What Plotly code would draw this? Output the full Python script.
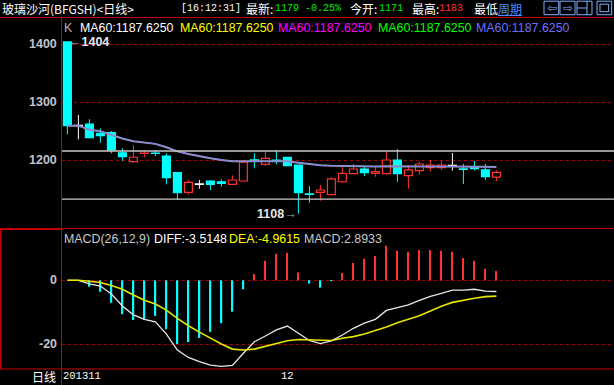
import plotly.graph_objects as go

W, H = 614, 385

# ---------------- data ----------------
open_ = [1404, 1259.7, 1262.6, 1246.6, 1247.6, 1213, 1197.6, 1212, 1212.3, 1207.4,
         1178.6, 1144.8, 1158.6, 1164.3, 1163, 1158.6, 1164.3, 1200.3, 1193, 1200.3,
         1205, 1191.9, 1141.6, 1144.8, 1140.7, 1163, 1176.9, 1185, 1177.6, 1176.9,
         1200.5, 1173.4, 1182.1, 1187.2, 1187.2, 1190.7, 1184.7, 1189, 1183.3, 1171]
high = [1404, 1278, 1270.7, 1255, 1250.5, 1220.7, 1226.4, 1216.5, 1217.8, 1212,
        1178.6, 1166, 1166, 1166, 1167.2, 1174, 1197, 1212, 1214.8, 1217.8,
        1205, 1191.9, 1155.7, 1157.4, 1170.7, 1189, 1193.6, 1189, 1189, 1214.8,
        1219.5, 1191.9, 1197.6, 1200.5, 1198.8, 1212.6, 1193.6, 1198.8, 1193.6, 1183]
low = [1244.8, 1236, 1239, 1230.3, 1212, 1198.8, 1195.9, 1205, 1207.4, 1158.6,
       1131.6, 1140.7, 1151, 1148.8, 1154.5, 1158.6, 1164.3, 1186.2, 1190.2, 1193,
       1190.7, 1108, 1127, 1130.3, 1140.7, 1161.4, 1176.9, 1172.9, 1171.7, 1175.2,
       1163, 1151, 1175.2, 1180.3, 1183.3, 1182.1, 1159, 1182.1, 1166, 1164.3]
close = [1259.7, 1259.7, 1239, 1242.4, 1217.8, 1206.2, 1205.2, 1212.4, 1212, 1170,
         1144, 1162, 1158.6, 1158.6, 1160.3, 1166, 1197, 1200, 1203.4, 1199.8,
         1190.7, 1144, 1141.4, 1148.8, 1167.8, 1177.6, 1185, 1178.6, 1180.3, 1200.5,
         1176.9, 1183.3, 1193.6, 1191.9, 1191.9, 1190.7, 1184.5, 1185.5, 1171.7, 1179]
ma60 = [1259.7, 1259.7, 1252.8, 1250.2, 1243.7, 1237.5, 1232.9, 1230.3, 1228.3, 1222.5,
        1215.3, 1210.9, 1206.9, 1203.4, 1200.5, 1198.4, 1198.3, 1198.4, 1198.7, 1198.7,
        1198.3, 1195.8, 1193.5, 1191.6, 1190.7, 1190.2, 1190.0, 1189.6, 1189.2, 1189.6,
        1189.2, 1189.0, 1189.2, 1189.2, 1189.3, 1189.4, 1189.2, 1189.1, 1188.7, 1188.4]
diff = [0, 0, -1.15, -1.8, -4.3, -8.0, -10.8, -12.2, -13.0, -16.8,
        -21.8, -24.1, -25.4, -26.5, -26.9, -26.6, -22.8, -19.2, -17.4, -15.5,
        -14.3, -16.6, -18.8, -19.8, -18.9, -17.1, -15.0, -13.4, -12.2, -9.4,
        -8.6, -7.7, -6.3, -5.0, -4.1, -3.1, -3.1, -2.8, -3.4, -3.5]
dea = [0, 0, -0.3, -0.7, -1.6, -2.8, -4.6, -6.2, -7.4, -9.3,
       -11.9, -14.2, -16.2, -18.1, -19.9, -21.5, -21.8, -21.5, -20.7, -19.7,
       -18.9, -18.5, -18.6, -18.8, -18.8, -18.1, -17.6, -16.8, -15.8, -14.6,
       -13.3, -12.3, -11.1, -9.6, -8.1, -6.9, -6.2, -5.6, -5.1, -4.96]
macd = [0, 0, -2.0, -3.6, -7.0, -10.6, -12.4, -12.3, -11.1, -15.3,
        -19.9, -19.3, -18.0, -16.1, -13.4, -9.8, -2.8, 2.0, 6.1, 8.2,
        8.6, 2.4, -1.0, -2.3, -0.2, 2.3, 5.4, 6.7, 7.6, 10.8,
        9.2, 8.9, 9.5, 9.5, 9.2, 8.9, 7.0, 6.1, 3.6, 2.9]
levels = [1216, 1133]
price_ticks = [1400, 1300, 1200]
macd_ticks = [0, -20]
month_ticks = [(20, "12")]
first_month = "201311"
ma_labels = ["MA60:1187.6250"] * 5
macd_title = "MACD(26,12,9)"
diff_label = "DIFF:-3.5148"
dea_label = "DEA:-4.9615"
macd_label = "MACD:2.8933"
header_texts = ["玻璃沙河(BFGSH)<日线>", "[16:12:31]", "最新:", "1179", "-0.25%",
                "今开:", "1171", "最高:", "1183", "最低", "周期"]

# ---------------- styles ----------------
RED = "#ff3232"
CYAN = "#00ffff"
FRAME = "#c80000"
GRID = "#a00000"
LBL = "#c0c4cc"
SANS = "Liberation Sans, Arial, sans-serif"
CJK = "Noto Sans CJK SC, sans-serif"
MONO = "Liberation Mono, monospace"


def px(x):
    return x / W


def py(y):
    return 1 - y / H


x = list(range(len(close)))
fig = go.Figure()

# candles
groups = {"up": (RED, "#000000"), "down": (CYAN, CYAN), "flat": ("#ffffff", "#ffffff")}


def kind(i):
    if close[i] > open_[i]:
        return "up"
    if close[i] < open_[i]:
        return "down"
    return "flat"


for g, (lc, fc) in groups.items():
    idx = [i for i in x if kind(i) == g]
    wx, wy = [], []
    for i in idx:
        top = max(open_[i], close[i])
        bot = min(open_[i], close[i])
        if high[i] > top:
            wx += [i, i, None]
            wy += [top, high[i], None]
        if low[i] < bot:
            wx += [i, i, None]
            wy += [low[i], bot, None]
    fig.add_trace(go.Scatter(x=wx, y=wy, mode="lines", line=dict(color=lc, width=1),
                             xaxis="x", yaxis="y", hoverinfo="skip"))
    fig.add_trace(go.Bar(x=idx,
                         y=[max(abs(close[i] - open_[i]), 0.6) for i in idx],
                         base=[min(open_[i], close[i]) for i in idx],
                         width=0.72, marker=dict(color=fc, line=dict(color=lc, width=1.2)),
                         xaxis="x", yaxis="y", hoverinfo="skip"))

# MA lines
fig.add_trace(go.Scatter(x=x, y=ma60, mode="lines", line=dict(color="#9a9a9a", width=2),
                         xaxis="x", yaxis="y", hoverinfo="skip"))
fig.add_trace(go.Scatter(x=x, y=ma60, mode="lines", line=dict(color="#8080ff", width=1),
                         xaxis="x", yaxis="y", hoverinfo="skip"))

# MACD histogram
pos = [i for i in x if macd[i] > 0]
neg = [i for i in x if macd[i] < 0]
fig.add_trace(go.Bar(x=pos, y=[macd[i] for i in pos], width=0.11,
                     marker=dict(color=RED, line=dict(width=0)), xaxis="x2", yaxis="y2"))
fig.add_trace(go.Bar(x=neg, y=[macd[i] for i in neg], width=0.15,
                     marker=dict(color=CYAN, line=dict(width=0)), xaxis="x2", yaxis="y2"))
fig.add_trace(go.Scatter(x=x, y=diff, mode="lines", line=dict(color="#e8e8e8", width=1.3),
                         xaxis="x2", yaxis="y2", hoverinfo="skip"))
fig.add_trace(go.Scatter(x=x, y=dea, mode="lines", line=dict(color="#e6e600", width=1.6),
                         xaxis="x2", yaxis="y2", hoverinfo="skip"))

xr = [-0.49, -0.49 + 552 / 11]
ax_common = dict(showgrid=True, gridcolor=GRID, griddash="dot", gridwidth=1,
                 showticklabels=False, zeroline=False, showline=False, ticks="")
fig.update_layout(
    width=W, height=H, margin=dict(l=0, r=0, t=0, b=0),
    paper_bgcolor="black", plot_bgcolor="black",
    barmode="overlay", showlegend=False,
    xaxis=dict(domain=[px(62), 1], range=xr, visible=False, anchor="y"),
    xaxis2=dict(domain=[px(62), 1], range=xr, visible=False, anchor="y2", matches="x"),
    yaxis=dict(domain=[py(228.5), py(18)], range=[1082.4, 1445.3], tickvals=price_ticks,
               anchor="x", **ax_common),
    yaxis2=dict(domain=[py(369), py(229)], range=[-27.72, 16.03], tickvals=macd_ticks,
                anchor="x2", **ax_common),
)

shapes = []


def hline(y, x0=0, x1=W, color=FRAME, w=1):
    shapes.append(dict(type="line", xref="paper", yref="paper", x0=px(x0), x1=px(x1),
                       y0=py(y), y1=py(y), line=dict(color=color, width=w)))


def vline(xv, y0, y1, color=FRAME, w=1):
    shapes.append(dict(type="line", xref="paper", yref="paper", x0=px(xv), x1=px(xv),
                       y0=py(y0), y1=py(y1), line=dict(color=color, width=w)))


hline(17.5)
hline(228.5)
hline(369)
vline(61.5, 17.5, 385)
vline(0.8, 228.5, 369, w=1.5)
hline(229.2, 0, 61.5, w=1.5)
for lv in levels:
    shapes.append(dict(type="line", xref="paper", yref="y", x0=px(62), x1=1, y0=lv, y1=lv,
                       line=dict(color="#c8c8c8", width=1.3)))
# header underline and icons
BLUE = "#80b0ff"
hline(15.5, 498, 522, color="#4a8cff", w=1)
for (a, b) in [(544, 558.7), (560, 575), (577, 592), (597, 611.7)]:
    shapes.append(dict(type="rect", xref="paper", yref="paper", x0=px(a), x1=px(b),
                       y0=py(14.7), y1=py(1.2), line=dict(color=BLUE, width=1)))
vline(587, 1.2, 14.7, color=BLUE)
hline(8, 577, 587, color=BLUE)
shapes.append(dict(type="rect", xref="paper", yref="paper", x0=px(600), x1=px(608.7),
                   y0=py(11.7), y1=py(4.2), line=dict(color=BLUE, width=1)))
fig.update_layout(shapes=shapes)

ann = []


def text(xp, yp, t, color="#ffffff", size=12, family=SANS, anchor="left", weight="normal"):
    ann.append(dict(xref="paper", yref="paper", x=px(xp), y=py(yp), text=t,
                    showarrow=False, xanchor=anchor, yanchor="middle",
                    font=dict(color=color, size=size, family=family, weight=weight),
                    borderpad=0))


# header
hx = [1, 180, 245, 274, 304, 349, 378, 411, 438, 473, 497]
hc = ["#ffffff", "#ffffff", "#ffffff", "#00ee00", "#00ee00", "#ffffff", "#00ee00",
      "#ffffff", RED, "#ffffff", "#4a8cff"]
hf = [CJK, MONO, CJK, MONO, MONO, CJK, MONO, CJK, MONO, CJK, CJK]
hs = [12, 10, 12, 10, 10, 12, 10, 12, 10, 12, 12]
for xp, t, c, f, s in zip(hx, header_texts, hc, hf, hs):
    text(xp, 8.5, t, c, s, f)
text(551.5, 8, "⇦", BLUE, 12, "DejaVu Sans", "center")
text(567.5, 8, "⇨", BLUE, 12, "DejaVu Sans", "center")

# price legend
text(63, 28.5, "K", "#b0b0b0", 12.4)
for xp, t, c in zip([79, 179, 277, 377, 475], ma_labels,
                    ["#ffffff", "#ffff00", "#ff00ff", "#00ff00", "#6f6fff"]):
    text(xp, 28.5, t, c, 12.4)

# macd legend
text(62.5, 239, macd_title, "#c8c8c8", 12.4)
text(152.5, 239, diff_label, "#ffffff", 12.4)
text(227.5, 239, dea_label, "#ffff00", 12.4)
text(302.5, 239, macd_label, "#c8c8c8", 12.4)

# axis labels
for v in price_ticks:
    ann.append(dict(xref="paper", yref="y", x=px(57.5), y=v, text=str(v), showarrow=False,
                    xanchor="right", yanchor="middle", borderpad=0,
                    font=dict(color=LBL, size=12.5, family=SANS, weight="bold")))
for v in macd_ticks:
    ann.append(dict(xref="paper", yref="y2", x=px(57.5), y=v, text=str(v), showarrow=False,
                    xanchor="right", yanchor="middle", borderpad=0,
                    font=dict(color=LBL, size=12.5, family=SANS, weight="bold")))

# high / low marks
ih = high.index(max(high))
il = low.index(min(low))
ann.append(dict(xref="x", yref="y", x=ih, y=high[ih], xshift=1,
                text='<span style="color:#a8a8a8">←</span>' + f"{max(high):g}",
                showarrow=False, xanchor="left", yanchor="middle", borderpad=0,
                font=dict(color="#e8e8e8", size=12.5, family=SANS, weight="bold")))
ann.append(dict(xref="x", yref="y", x=il, y=low[il], xshift=0,
                text=f"{min(low):g}" + '<span style="color:#a8a8a8">→</span>',
                showarrow=False, xanchor="right", yanchor="middle", borderpad=0,
                font=dict(color="#e8e8e8", size=12.5, family=SANS, weight="bold")))

# bottom axis
text(57, 376, "日线", "#ffffff", 12, CJK, "right")
text(62, 376, first_month, "#ffffff", 10.5, MONO)
for i, t in month_ticks:
    ann.append(dict(xref="x", yref="paper", x=i, y=py(376), text=t, showarrow=False,
                    xanchor="center", yanchor="middle", borderpad=0,
                    font=dict(color="#ffffff", size=10.5, family=MONO)))

fig.update_layout(annotations=ann)
fig.write_html("out.html")
